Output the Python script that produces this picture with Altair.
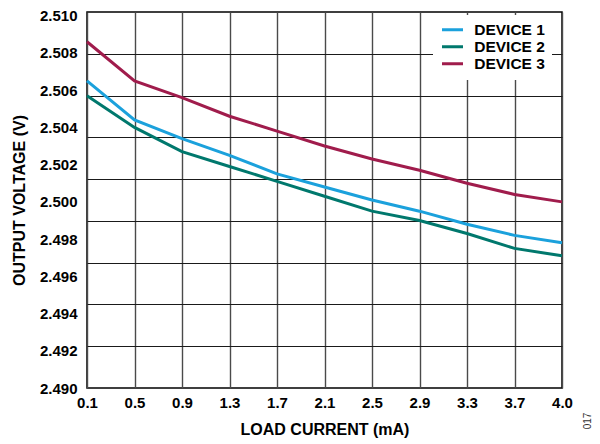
import altair as alt
import pandas as pd

# ---- data ----
x_labels = ["0.1", "0.5", "0.9", "1.3", "1.7", "2.1", "2.5", "2.9", "3.3", "3.7", "4.0"]
device1 = [2.5065, 2.5044, 2.5034, 2.5025, 2.5015, 2.5008, 2.5001, 2.4995, 2.4988, 2.4982, 2.4978]
device2 = [2.5057, 2.5040, 2.5027, 2.5019, 2.5011, 2.5003, 2.4995, 2.4990, 2.4983, 2.4975, 2.4971]
device3 = [2.5086, 2.5065, 2.5056, 2.5046, 2.5038, 2.5030, 2.5023, 2.5017, 2.5010, 2.5004, 2.5000]
series_names = ["DEVICE 1", "DEVICE 2", "DEVICE 3"]
colors = ["#1ba1dc", "#00786d", "#a01c4c"]

y_bottom = 2.490
y_top = 2.5102
y_label_values = [round(2.490 + 0.002 * i, 3) for i in range(11)]
y_grid_values = [y_bottom + (y_top - y_bottom) * k / 9 for k in range(1, 9)]
fig_id = ["017"]

rows = []
for name, vals in zip(series_names, [device1, device2, device3]):
    for xl, v in zip(x_labels, vals):
        rows.append({"current": xl, "voltage": v, "device": name})
df = pd.DataFrame(rows)

FONT = "Liberation Sans"
is_label = "abs(datum.value*500 - round(datum.value*500)) < 0.001"

lines = alt.Chart(df).mark_line(strokeWidth=3).encode(
    x=alt.X(
        "current:O",
        sort=x_labels,
        scale=alt.Scale(type="point", padding=0),
        axis=alt.Axis(
            title="LOAD CURRENT (mA)",
            labelAngle=0,
            labelPadding=7,
            titlePadding=11,
            grid=True,
            gridColor="#4a4a4a",
            gridWidth=1.4,
            ticks=False,
            domain=False,
        ),
    ),
    y=alt.Y(
        "voltage:Q",
        scale=alt.Scale(domain=[y_bottom, y_top], nice=False, zero=False),
        axis=alt.Axis(
            title="OUTPUT VOLTAGE (V)",
            values=y_label_values + y_grid_values,
            labelExpr=f"({is_label}) ? format(datum.value, '.3f') : ''",
            labelPadding=10,
            titlePadding=12,
            grid=True,
            gridColor="#1a1a1a",
            gridWidth=1.1,
            gridOpacity={"condition": {"test": is_label, "value": 0}, "value": 1},
            ticks=False,
            domain=False,
        ),
    ),
    color=alt.Color(
        "device:N",
        scale=alt.Scale(domain=series_names, range=colors),
        legend=alt.Legend(
            title=None,
            orient="none",
            legendX=346,
            legendY=3,
            fillColor="white",
            padding=7,
            symbolType="M-1.4,0L1.4,0",
            symbolSize=225,
            symbolStrokeWidth=3,
            symbolOffset=3.5,
            labelFontSize=15.5,
            labelFont=FONT,
            labelFontWeight="bold",
            labelColor="black",
            labelOffset=12.7,
            rowPadding=0,
            clipHeight=15.7,
        ),
    ),
)

fig_text = alt.Chart(pd.DataFrame({"t": fig_id})).mark_text(
    angle=270, fontSize=10, font=FONT, color="#333333"
).encode(text="t:N", x=alt.value(501), y=alt.value(409))

chart = (
    alt.layer(lines, fig_text)
    .properties(
        width=475,
        height=376,
        autosize=alt.AutoSizeParams(type="none"),
        padding={"left": 79, "top": 4, "right": 30, "bottom": 52},
    )
    .configure_view(stroke="black", strokeWidth=1.5)
    .configure_axis(
        labelFont=FONT,
        labelFontSize=15,
        labelFontWeight="bold",
        labelColor="black",
        titleFont=FONT,
        titleFontSize=16,
        titleFontWeight="bold",
        titleColor="black",
    )
)

chart.save("out.html", embed_options={"renderer": "svg", "actions": False})
